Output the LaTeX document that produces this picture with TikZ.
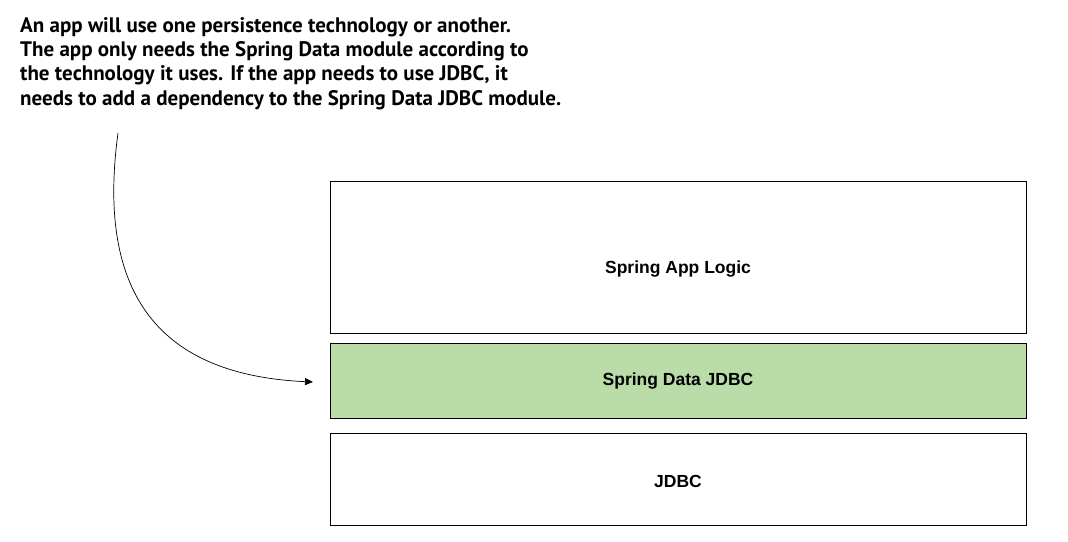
\documentclass[tikz,border=0pt]{standalone}
\usepackage{fontspec}
\setmainfont{PT Sans}
\newfontfamily\boxfont{Liberation Sans}
\usetikzlibrary{arrows.meta}
\definecolor{datagreen}{RGB}{185,220,169}
\begin{document}
\begin{tikzpicture}[x=1pt,y=-1pt,
  layer/.style={draw=black,line width=0.9pt,minimum width=696pt,inner sep=0pt},
  lbl/.style={font=\boxfont\bfseries\fontsize{17.5}{20}\selectfont},
  note/.style={align=left,inner sep=0pt,anchor=north west,
    font=\bfseries\fontsize{21}{24.3}\selectfont},
  conn/.style={draw=black,line width=0.7pt,-{Triangle[length=8pt,width=7pt]}}]
\useasboundingbox (0,0) rectangle (1068,541);
\node[note] (txt) at (20,17) {An app will use one persistence technology or another.\\
The app only needs the Spring Data module according to\\
the technology it uses. If the app needs to use JDBC, it\\
needs to add a dependency to the Spring Data JDBC module.};
\node[layer,minimum height=152pt,label={[lbl,yshift=-12pt]center:Spring App Logic}] (logic) at (678,257) {};
\node[layer,minimum height=75pt,fill=datagreen,label={[lbl]center:Spring Data JDBC}] (data) at (678,381) {};
\node[layer,minimum height=92pt,label={[lbl,yshift=-2pt]center:JDBC}] (jdbc) at (678,479) {};
\coordinate (s) at (118,133);
\coordinate (e) at (313,382);
\draw[conn] (s) .. controls (96,295) and (160,375) .. (e);
\end{tikzpicture}
\end{document}
